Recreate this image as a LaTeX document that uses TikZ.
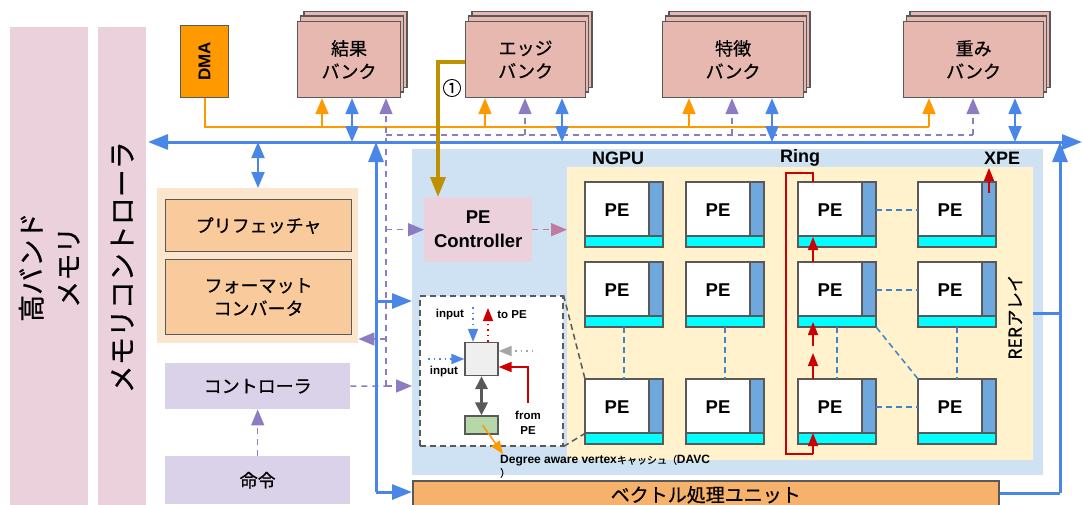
\documentclass[tikz,border=0pt]{standalone}
\usepackage{fontspec}
\setmainfont{Liberation Sans}
\newfontfamily\jp{Noto Sans CJK JP}[FakeBold=0.6]
\usetikzlibrary{arrows.meta}

\definecolor{memfill}{HTML}{EAD1DC}
\definecolor{bankfill}{HTML}{E6B8AF}
\definecolor{linegray}{HTML}{595959}
\definecolor{dmaorange}{HTML}{FF9900}
\definecolor{busblue}{HTML}{4A86E8}
\definecolor{ctrlpurple}{HTML}{8E7CC3}
\definecolor{pecpink}{HTML}{C27BA0}
\definecolor{gold}{HTML}{BF9000}
\definecolor{ngpufill}{HTML}{CFE2F3}
\definecolor{arrayfill}{HTML}{FFF2CC}
\definecolor{stripblue}{HTML}{6FA8DC}
\definecolor{stripcyan}{HTML}{00FFFF}
\definecolor{preffill}{HTML}{F9CB9C}
\definecolor{prefbg}{HTML}{FCE5CD}
\definecolor{ctrlfill}{HTML}{D9D2E9}
\definecolor{vecfill}{HTML}{F6B26B}
\definecolor{ringred}{HTML}{CC0000}
\definecolor{cachegreen}{HTML}{B6D7A8}
\definecolor{boxgray}{HTML}{EFEFEF}
\definecolor{linkblue}{HTML}{3D85C6}

\begin{document}
\begin{tikzpicture}[x=1pt, y=-1pt]

    % Set the canvas size
    \useasboundingbox (0,0) rectangle (1083,504);
    \clip (0,0) rectangle (1083,504);

    % Define styles
    \tikzset{
        BusTip/.tip={Triangle[width=15pt, length=20pt]},
        MidTip/.tip={Triangle[width=13pt, length=16pt]},
        RedTip/.tip={Triangle[width=10pt, length=13pt]},
        memcol/.style={fill=memfill, inner sep=0pt, anchor=north west},
        jptext/.style={font=\jp\fontsize{18}{23}\selectfont, align=center},
        bank/.style={jptext, draw=linegray, line width=1.2pt, fill=bankfill, minimum height=76pt, anchor=north west, inner sep=0pt},
        bankback/.style={draw=linegray, line width=1.2pt, fill=bankfill},
        prefbox/.style={jptext, draw=linegray, line width=1.2pt, fill=preffill, minimum width=186pt, anchor=north west, inner sep=0pt},
        ctrlbox/.style={jptext, fill=ctrlfill, minimum width=185pt, anchor=north west, inner sep=0pt},
        region/.style={inner sep=0pt, anchor=north west},
        bus/.style={busblue, line width=3pt},
        busdbl/.style={busblue, line width=2pt, {MidTip}-{MidTip}},
        oline/.style={dmaorange, line width=2pt},
        pline/.style={ctrlpurple, line width=1.5pt, dash pattern=on 6pt off 5pt},
        tile/.style={fill=white, minimum width=78pt, minimum height=65pt, anchor=north west, inner sep=0pt},
        petext/.style={font=\bfseries\fontsize{18.5}{22}\selectfont},
        headtext/.style={font=\bfseries\fontsize{18}{22}\selectfont},
        link/.style={linkblue, line width=1.5pt, dash pattern=on 6pt off 4pt},
        ring/.style={ringred, line width=1.5pt},
        dots/.style={line width=1.5pt, dash pattern=on 1.5pt off 4pt},
        smalltext/.style={font=\bfseries\fontsize{11.5}{15}\selectfont, align=center},
        zoomline/.style={linegray, line width=1.5pt, dash pattern=on 6pt off 4pt},
    }

    % Memory columns on the left
    \node[memcol, minimum width=78pt, minimum height=480pt] (hbm) at (10,27) {};
    \node[rotate=90, align=center, font=\jp\fontsize{27}{37}\selectfont] (hbmtxt) at (hbm) {高バンド\\メモリ};
    \node[memcol, minimum width=48pt, minimum height=480pt] (mc) at (98,27) {};
    \node[rotate=90, font=\jp\fontsize{28}{34}\selectfont] (mctxt) at (mc) {メモリコントローラ};

    % NGPU region and RER array
    \node[region, fill=ngpufill, minimum width=631pt, minimum height=326pt] (ngpu) at (412,149) {};
    \node[region, fill=arrayfill, minimum width=466pt, minimum height=293pt] (pearray) at (567,167) {};
    \node[headtext] (ngputxt) at (618,158) {NGPU};
    \node[headtext] (ringtxt) at (800,158) {Ring};
    \node[headtext] (xpetxt) at (1002,158) {XPE};
    \node[rotate=90, font=\jp\fontsize{17.5}{20}\selectfont] (rertxt) at (1015,317) {RERアレイ};

    % Prefetcher, converter, controller, command
    \node[region, fill=prefbg, minimum width=201pt, minimum height=155pt] (pref) at (157,188) {};
    \node[prefbox, minimum height=52pt] (prefetch) at (165,199) {プリフェッチャ};
    \node[prefbox, minimum height=75pt] (fmt) at (165,259) {フォーマット\\コンバータ};
    \node[ctrlbox, minimum height=46pt] (ctrl) at (165,363) {コントローラ};
    \node[ctrlbox, minimum height=48pt] (cmd) at (165,456) {命令};

    % DMA and banks
    \node[region, draw=linegray, line width=1.2pt, fill=dmaorange, minimum width=48pt, minimum height=72pt] (dma) at (180,25) {};
    \node[rotate=90, font=\bfseries\fontsize{17}{20}\selectfont] (dmatxt) at (dma) {DMA};
    \foreach \nm/\xl/\w/\txt in {kekka/297/103/結果, edgebank/465/120/エッジ, feat/662/141/特徴, weight/903/140/重み} {
        \draw[bankback] (\xl+7,11.5) rectangle ++(\w,76);
        \draw[bankback] (\xl+3.5,16) rectangle ++(\w,76);
        \node[bank, minimum width=\w pt] (\nm) at (\xl,21) {\txt\\バンク};
    }

    % Vector unit
    \node[region, draw=linegray, line width=1.5pt, fill=vecfill, minimum width=586pt, minimum height=28pt, font=\jp\fontsize{19}{22}\selectfont] (vec) at (412,480) {ベクトル処理ユニット};

    % PE controller
    \node[region, fill=memfill, minimum width=108pt, minimum height=65pt, align=center, font=\bfseries\fontsize{18.5}{24}\selectfont] (pec) at (424,197) {PE\\Controller};

    % DMA line to banks (orange)
    \coordinate (ob1) at (322,127);
    \coordinate (ob2) at (485,127);
    \coordinate (ob3) at (689,127);
    \coordinate (ob4) at (929,127);
    \draw[oline] (dma.south) |- (ob4);
    \foreach \o/\b in {ob1/kekka, ob2/edgebank, ob3/feat, ob4/weight}
        \draw[oline, -MidTip] (\o) -- (\o |- \b.south);

    % Controller lines (purple, dashed)
    \coordinate (ptrunk) at (386,386);
    \coordinate (pbranch) at (386,135);
    \coordinate (pb2) at (525,135);
    \coordinate (pb3) at (732,135);
    \coordinate (pb4) at (973,135);
    \coordinate (ppref) at (386,339);
    \draw[pline] (ctrl.east) -- (ptrunk);
    \draw[pline, -MidTip] (ptrunk) -- (ptrunk |- kekka.south);
    \draw[pline, -MidTip] (ptrunk) -- (ptrunk -| ngpu.west);
    \draw[pline] (pbranch) -- (pb4);
    \foreach \p/\b in {pb2/edgebank, pb3/feat, pb4/weight}
        \draw[pline, -MidTip] (\p) -- (\p |- \b.south);
    \draw[pline, -MidTip] (ptrunk |- pec.west) -- (pec.west);
    \draw[pline, -MidTip] (ppref) -- (ppref -| pref.east);
    \draw[pline, -MidTip] (cmd.north) -- (ctrl.south);

    % Data bus (blue)
    \coordinate (busl) at (148,142);
    \coordinate (busr) at (1082,142);
    \draw[bus, {BusTip}-{BusTip}] (busl) -- (busr);
    \coordinate (bb0) at (258,142);
    \coordinate (bb1) at (352,142);
    \coordinate (bb2) at (562,142);
    \coordinate (bb3) at (772,142);
    \coordinate (bb4) at (1015,142);
    \foreach \p/\b in {bb1/kekka, bb2/edgebank, bb3/feat, bb4/weight}
        \draw[busdbl] (\p) -- (\p |- \b.south);
    \draw[busdbl] (bb0) -- (bb0 |- pref.north);
    \coordinate (lrise) at (376,492);
    \coordinate (lbranch) at (376,301);
    \draw[bus, -BusTip] (lrise) -- (lrise |- busl);
    \draw[bus, -BusTip] (lbranch) -- (lbranch -| ngpu.west);
    \draw[bus, -BusTip] (lrise) -- (lrise -| vec.west);
    \coordinate (rrise) at (1060,493);
    \coordinate (rbranch) at (1060,313);
    \draw[bus, -BusTip] (rrise) -- (rrise |- busr);
    \draw[bus] (rbranch -| pearray.east) -- (rbranch);
    \draw[bus] (rrise -| vec.east) -- (rrise);

    % Edge bank to PE controller (step 1)
    \coordinate (goldturn) at (438,62);
    \draw[gold, line width=3.5pt, -BusTip] (goldturn -| edgebank.west) -- (goldturn) -- (goldturn |- pec.north);
    \node[font=\jp\fontsize{19}{22}\selectfont] (circled1) at (452,88) {①};
    \draw[pecpink, line width=1.5pt, dash pattern=on 6pt off 5pt, -MidTip] (pec.east) -- (pec.east -| pearray.west);

    % PE tiles
    \foreach \col/\xl in {1/585, 2/686, 3/798, 4/918} {
        \foreach \row/\yt in {1/182, 2/262, 3/379} {
            \node[tile] (pe\row\col) at (\xl,\yt) {};
            \fill[stripblue] (\xl+64,\yt) rectangle (\xl+78,\yt+54);
            \fill[stripcyan] (\xl,\yt+54) rectangle (\xl+78,\yt+65);
            \draw[linegray, line width=1.5pt] (\xl,\yt) rectangle (\xl+78,\yt+65)
                (\xl+64,\yt) -- (\xl+64,\yt+54) (\xl,\yt+54) -- (\xl+78,\yt+54);
            \node[petext] (pt\row\col) at (\xl+32,\yt+28) {PE};
        }
    }

    % Links between PEs
    \draw[link] (pe13.east |- pt13) -- (pe14.west |- pt13);
    \draw[link] (pe23.east |- pt23) -- (pe24.west |- pt23);
    \draw[link] (pe33.east |- pt33) -- (pe34.west |- pt33);
    \foreach \col in {1,2,3,4}
        \draw[link] (pe2\col.south) -- (pe3\col.north);
    \draw[link] (pe23.south east) -- (pe34.north west);

    % Ring (red)
    \coordinate (ringtop) at (813,173);
    \coordinate (ringbot) at (813,454);
    \draw[ring] (pe13.north -| ringtop) -- (ringtop) -- ++(-27,0) |- (ringbot);
    \draw[ring, -RedTip] (ringbot) -- ++(0,-21);
    \draw[ring, -RedTip] (pe33.north -| ringtop) -- ++(0,-26);
    \draw[ring, -RedTip] (813,346) -- ++(0,-24);
    \draw[ring, -RedTip] (pe23.north -| ringtop) -- ++(0,-25);
    \coordinate (xpefoot) at (989,193);
    \draw[ring, -RedTip] (xpefoot) -- ++(0,-25);

    % Zoomed view of one PE
    \node[region, draw=linegray, line width=1.5pt, dash pattern=on 6pt off 4pt, fill=white, minimum width=143pt, minimum height=150pt] (davc) at (419,295) {};
    \draw[zoomline] (davc.north east) -- (pe31.north west);
    \draw[zoomline] (davc.south east) -- ([yshift=11pt]pe31.south west);
    \node[draw=linegray, line width=1.2pt, fill=boxgray, minimum size=33pt, inner sep=0pt] (sq) at (481.5,359) {};
    \node[draw=linegray, line width=1.2pt, fill=cachegreen, minimum width=33pt, minimum height=18pt, inner sep=0pt] (cache) at (481.5,425) {};
    \draw[linegray, line width=3pt, {Triangle[width=12pt,length=13pt]}-{Triangle[width=12pt,length=13pt]}] (sq) -- (cache);
    \coordinate (intop) at (473,307);
    \draw[dots, busblue, -RedTip] (intop) -- (intop |- sq.north);
    \node[smalltext] (intoptxt) at (450,315) {input};
    \coordinate (outtop) at (488,308);
    \draw[dots, ringred, -RedTip] (outtop |- sq.north) -- (outtop);
    \node[smalltext] (outtxt) at (512,315) {to PE};
    \coordinate (inleft) at (428,359);
    \draw[dots, busblue, -RedTip] (inleft) -- (sq.west);
    \node[smalltext] (inlefttxt) at (444,372) {input};
    \coordinate (inright) at (533,351);
    \draw[dots, gray!70, -RedTip] (inright) -- (inright -| sq.east);
    \coordinate (frompe) at (528,403);
    \coordinate (fromturn) at (528,367);
    \draw[ring, -RedTip] (frompe) -- (fromturn) -- (fromturn -| sq.east);
    \node[smalltext] (fromtxt) at (528,423) {from\\PE};
    \coordinate (davctip) at (503,454);
    \draw[dmaorange, line width=1.5pt, -RedTip] ([xshift=1pt]cache.center) -- (davctip);
    \node[anchor=north west, inner sep=0pt, align=left, font=\bfseries\fontsize{12}{13}\selectfont] (davctxt) at (500,455)
        {Degree aware vertex{\jp\mdseries\fontsize{10}{13}\selectfont キャッシュ（}DAVC\\{\jp\mdseries\fontsize{10}{13}\selectfont ）}};

\end{tikzpicture}
\end{document}
